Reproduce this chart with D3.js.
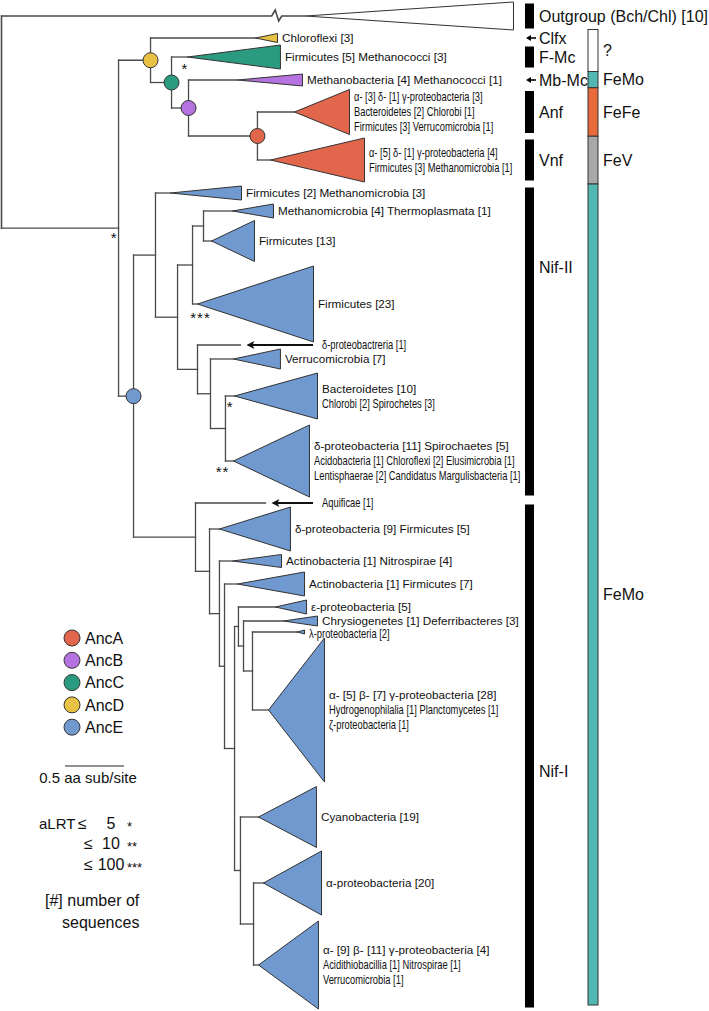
<!DOCTYPE html>
<html><head><meta charset="utf-8">
<script src="https://cdn.jsdelivr.net/npm/d3@7"></script>
<style>
body{margin:0;background:#fff}
svg{display:block}
text{font-family:"Liberation Sans",Arial,Helvetica,sans-serif;fill:#111}
</style>
</head><body>
<svg id="c" width="709" height="1011"></svg>
<script>
// ---------------- DATA ----------------
// internal nodes: depth = distance from root (aa substitutions / site)
const nodeIds     = ["root","IN","D","C","B","A","E","N2","n2a","n2b","n2d","n2c","n2e","n2f","N1","n1a","n1b","n1c","n1d","n1e","n1f","n1g","n1h","n1i"];
const nodeParents = [null,"root","IN","D","C","B","IN","E","N2","n2a","n2b","n2a","n2c","n2e","E","N1","n1a","n1b","n1c","n1d","n1e","n1f","n1d","n1h"];
const nodeDepths  = [0,0.992,1.263,1.441,1.585,2.169,1.119,1.305,1.492,1.619,1.712,1.661,1.771,1.898,1.644,1.763,1.847,1.890,1.975,2.008,2.051,2.127,2.025,2.136];
const ancestorNodes = ["A","B","C","D","E"];
const ancestorNames = ["AncA","AncB","AncC","AncD","AncE"];

// collapsed clades / leaves
const cladeIds     = ["OUT","Clfx","FMc","Mb","Anf","Vnf","FM","MT","F13","F23","d1","Verr","Bact","D11","Aqui","D9","AN","AF","eps","Chry","lam","Big","Cyan","A20","A9"];
const cladeParents = ["root","D","C","B","A","A","N2","n2d","n2d","n2b","n2c","n2e","n2f","n2f","N1","n1a","n1b","n1c","n1e","n1f","n1g","n1g","n1h","n1i","n1i"];
const cladeRows    = [16,38,57,80,112,160,193,211,241,304,345,359,396,461,503,529,561,584,607,621,632,710,817,883,965];
const cladeCrown   = [2.576,2.153,1.576,2.0,2.483,2.28,1.432,1.958,1.78,1.661,2.025,1.966,1.975,1.966,2.237,1.847,1.958,2.0,2.322,2.39,2.508,2.263,2.178,2.22,2.178];
const cladeTip     = [4.339,2.339,2.364,2.551,2.949,3.076,2.034,2.305,2.144,2.644,2.025,2.364,2.678,2.61,2.237,2.449,2.373,2.568,2.585,2.678,2.568,2.737,2.669,2.712,2.686];
const cladeSpan    = [28,9,24,12,45,44,14,14,41,76,0,20,46,72,0,44,13,24,14,10,4,144,61,64,88];
const outgroupBreak = 2.29;

// label lines: [text, r = regular / n = narrow]
const cladeLabels = [
 [],
 [["Chloroflexi [3]","r"]],
 [["Firmicutes [5] Methanococci [3]","r"]],
 [["Methanobacteria [4] Methanococci [1]","r"]],
 [["α- [3] δ- [1] γ-proteobacteria [3]","n"],["Bacteroidetes [2] Chlorobi [1]","n"],["Firmicutes [3] Verrucomicrobia [1]","n"]],
 [["α- [5] δ- [1] γ-proteobacteria [4]","n"],["Firmicutes [3] Methanomicrobia [1]","n"]],
 [["Firmicutes [2] Methanomicrobia [3]","r"]],
 [["Methanomicrobia [4] Thermoplasmata [1]","r"]],
 [["Firmicutes [13]","r"]],
 [["Firmicutes [23]","r"]],
 [["δ-proteobactreria [1]","n"]],
 [["Verrucomicrobia [7]","r"]],
 [["Bacteroidetes [10]","r"],["Chlorobi [2] Spirochetes [3]","n"]],
 [["δ-proteobacteria [11] Spirochaetes [5]","r"],["Acidobacteria [1] Chloroflexi [2] Elusimicrobia [1]","n"],["Lentisphaerae [2] Candidatus Margulisbacteria [1]","n"]],
 [["Aquificae [1]","n"]],
 [["δ-proteobacteria [9] Firmicutes [5]","r"]],
 [["Actinobacteria [1] Nitrospirae [4]","r"]],
 [["Actinobacteria [1] Firmicutes [7]","r"]],
 [["ε-proteobacteria [5]","r"]],
 [["Chrysiogenetes [1] Deferribacteres [3]","r"]],
 [["λ-proteobacteria [2]","n"]],
 [["α- [5] β- [7] γ-proteobacteria [28]","r"],["Hydrogenophilalia [1] Planctomycetes [1]","n"],["ζ-proteobacteria [1]","n"]],
 [["Cyanobacteria [19]","r"]],
 [["α-proteobacteria [20]","r"]],
 [["α- [9] β- [11] γ-proteobacteria [4]","r"],["Acidithiobacillia [1] Nitrospirae [1]","n"],["Verrucomicrobia [1]","n"]]
];
const arrowLeaves = ["d1","Aqui"];

// aLRT support marks
const supportAt    = ["IN","FMc","F23","Bact","D11"];
const supportMarks = ["*","*","***","*","**"];

// right-hand groups
const groupNames = ["Outgroup (Bch/Chl) [10]","Clfx","F-Mc","Mb-Mc","Anf","Vnf","Nif-II","Nif-I"];
const groupFirst = ["OUT","Clfx","FMc","Mb","Anf","Vnf","FM","Aqui"];
const groupLast  = ["OUT","Clfx","FMc","Mb","Anf","Vnf","D11","A9"];
const groupKind  = ["bar","arrow","bar","arrow","bar","bar","bar","bar"];

// metal cofactor bar
const metalNames = ["?","FeMo","FeFe","FeV","FeMo"];
const metalFirst = ["Clfx","Mb","Anf","Vnf","FM"];
const metalLast  = ["FMc","Mb","Anf","Vnf","A9"];

// legend
const scaleBarValue = 0.5;
const aLRTThresholds = ["5","10","100"];
const aLRTMarks = ["*","**","***"];

// ---------------- STYLE ----------------
const ancColor = {AncA:"#e1664b",AncB:"#b473df",AncC:"#2a9b80",AncD:"#e9c144",AncE:"#7099d0"};
const metalColor = {"?":"#ffffff","FeMo":"#52b6b2","FeFe":"#e8693a","FeV":"#a8a8aa"};
const lineCol = "#4a4a4a";
const labelNudge = {lam:2};

// ---------------- BUILD ----------------
const X = d3.scaleLinear().domain([0,5]).range([1.5,1.5+5*118]);
const Y = d3.scaleLinear().domain([0,1011]).range([0,1011]);

const N = {};
nodeIds.forEach((id,i)=>N[id]={id,parent:nodeParents[i],depth:nodeDepths[i],children:[],leaf:false});
cladeIds.forEach((id,i)=>N[id]={id,parent:cladeParents[i],depth:cladeCrown[i],tip:cladeTip[i],row:cladeRows[i],span:cladeSpan[i],labels:cladeLabels[i],children:[],leaf:true});
Object.values(N).forEach(n=>{ if(n.parent) N[n.parent].children.push(n); });
function setY(n){ if(n.leaf){n.y=n.row;return n.y;} const ys=n.children.map(setY); n.y=(d3.min(ys)+d3.max(ys))/2; return n.y; }
setY(N.root);
const ancOf = {}; ancestorNodes.forEach((id,i)=>ancOf[id]=ancestorNames[i]);
function cladeColor(n){ let p=N[n.parent]; while(p){ if(ancOf[p.id]) return ancColor[ancOf[p.id]]; p=N[p.parent]; } return "#ffffff"; }

const svg = d3.select("#c");
const gT = svg.append("g");

// verticals
Object.values(N).filter(n=>!n.leaf).forEach(n=>{
  const ys=n.children.map(c=>c.y);
  gT.append("line").attr("x1",X(n.depth)).attr("x2",X(n.depth))
    .attr("y1",Y(d3.min(ys))).attr("y2",Y(d3.max(ys)))
    .attr("stroke",lineCol).attr("stroke-width",n.id==="root"?1.6:1.3).attr("stroke-linecap","square");
});
// horizontals
Object.values(N).filter(n=>n.parent).forEach(n=>{
  const x0=X(N[n.parent].depth), x1=X(n.depth), y=Y(n.y);
  if(n.id==="OUT"){
    const xb=X(outgroupBreak);
    gT.append("path").attr("d",`M${x0},${y}L${xb},${y}L${xb+3.5},${y-6}L${xb+7},${y+5}L${xb+10},${y}L${x1},${y}`)
      .attr("fill","none").attr("stroke",lineCol).attr("stroke-width",1.6);
  } else {
    gT.append("line").attr("x1",x0).attr("x2",x1).attr("y1",y).attr("y2",y)
      .attr("stroke",lineCol).attr("stroke-width",1.3).attr("stroke-linecap","square");
  }
});
// triangles
Object.values(N).filter(n=>n.leaf && n.span>0).forEach(n=>{
  const pts=[[X(n.depth),Y(n.y)],[X(n.tip),Y(n.y-n.span/2)],[X(n.tip),Y(n.y+n.span/2)]];
  gT.append("path").attr("d","M"+pts.join("L")+"Z").attr("fill",cladeColor(n))
    .attr("stroke","#333").attr("stroke-width",1).attr("stroke-linejoin","miter");
});
// labels
function addText(g,x,y,txt,style){
  if(style==="n"){
    g.append("text").attr("transform",`translate(${x},${y}) scale(0.78,1)`).attr("font-size",12).text(txt);
  } else {
    g.append("text").attr("x",x).attr("y",y).attr("font-size",11.7).text(txt);
  }
}
Object.values(N).filter(n=>n.leaf && n.labels.length).forEach(n=>{
  const isArrow = arrowLeaves.includes(n.id);
  let lx = X(n.tip)+4.5;
  if(isArrow){
    lx = 322;
    const xh = X(n.tip)+6, xt = 313, y=Y(n.y);
    gT.append("line").attr("x1",xh+5).attr("x2",xt).attr("y1",y).attr("y2",y).attr("stroke","#111").attr("stroke-width",1.8);
    gT.append("path").attr("d",`M${xh},${y}L${xh+8},${y-4}L${xh+6},${y}L${xh+8},${y+4}Z`).attr("fill","#111");
  }
  const k=n.labels.length, nud=labelNudge[n.id]||0;
  n.labels.forEach((l,i)=>{
    const yy = Y(n.y)+(i-(k-1)/2)*14.8+4.2+nud;
    addText(gT,lx,yy,l[0],l[1]);
  });
});
// support asterisks (centre offsets)
const supOff = {IN:[-5,6],FMc:[-3,8],F23:[3,10],Bact:[-5,7],D11:[-11,7]};
supportAt.forEach((id,i)=>{
  const n=N[id], o=supOff[id]||[-4,7];
  gT.append("text").attr("x",X(n.depth)+o[0]).attr("y",Y(n.y)+o[1]+8.5)
    .attr("text-anchor","middle").attr("font-size",15).attr("letter-spacing",supportMarks[i].length>1?1:0)
    .text(supportMarks[i]);
});
// ancestor circles
ancestorNodes.forEach((id,i)=>{
  const n=N[id];
  gT.append("circle").attr("cx",X(n.depth)).attr("cy",Y(n.y)).attr("r",7.5)
    .attr("fill",ancColor[ancestorNames[i]]).attr("stroke","#333").attr("stroke-width",1);
});

// ---------------- RIGHT SIDE ----------------
const gR = svg.append("g");
const yTop = id=>N[id].y-N[id].span/2, yBot = id=>N[id].y+N[id].span/2;
const labelFrac = {"Nif-II":0.26,"Nif-I":0.53};
groupNames.forEach((name,i)=>{
  if(groupKind[i]==="bar"){
    const y0=Y(yTop(groupFirst[i]))+1.5, y1=Y(yBot(groupLast[i]))-1.5;
    gR.append("rect").attr("x",525).attr("y",y0).attr("width",9).attr("height",y1-y0).attr("fill","#000");
    const f = labelFrac[name]!==undefined?labelFrac[name]:0.5;
    gR.append("text").attr("x",539).attr("y",y0+(y1-y0)*f+5.8).attr("font-size",16).text(name);
  } else {
    const y=Y(N[groupFirst[i]].y);
    gR.append("line").attr("x1",530).attr("x2",536).attr("y1",y).attr("y2",y).attr("stroke","#000").attr("stroke-width",1.6);
    gR.append("path").attr("d",`M526,${y}L531,${y-3}L531,${y+3}Z`).attr("fill","#000");
    gR.append("text").attr("x",539).attr("y",y+5.8).attr("font-size",16).text(name);
  }
});
// metal segments
const segs = metalNames.map((m,i)=>({m,t:yTop(metalFirst[i]),b:yBot(metalLast[i])}));
segs.forEach((s,i)=>{
  s.y0 = i===0 ? s.t-4 : segs[i-1].y1;
  s.y1 = i===segs.length-1 ? s.b-4 : (s.b+segs[i+1].t)/2;
});
segs.forEach(s=>{
  gR.append("rect").attr("x",588).attr("y",Y(s.y0)).attr("width",10).attr("height",Y(s.y1)-Y(s.y0))
    .attr("fill",metalColor[s.m]).attr("stroke","#333").attr("stroke-width",1);
  gR.append("text").attr("x",603).attr("y",Y((s.y0+s.y1)/2)+5.8).attr("font-size",16).text(s.m);
});

// ---------------- LEGEND ----------------
const gL = svg.append("g");
ancestorNames.forEach((a,i)=>{
  const y=638+i*22.3;
  gL.append("circle").attr("cx",72).attr("cy",y).attr("r",8).attr("fill",ancColor[a]).attr("stroke","#333").attr("stroke-width",1);
  gL.append("text").attr("x",85).attr("y",y+5.8).attr("font-size",16).text(a);
});
gL.append("line").attr("x1",65).attr("x2",65+X(scaleBarValue)-X(0)).attr("y1",766).attr("y2",766).attr("stroke","#222").attr("stroke-width",1.2);
gL.append("text").attr("x",88).attr("y",783).attr("text-anchor","middle").attr("font-size",15).text(scaleBarValue+" aa sub/site");
aLRTThresholds.forEach((t,i)=>{
  const y=823+i*20.5+5.6;
  if(i===0) gL.append("text").attr("x",39).attr("y",y).attr("font-size",15).text("aLRT");
  gL.append("text").attr("x",i===0?78:84).attr("y",y).attr("font-size",16).text("≤");
  gL.append("text").attr("x",111).attr("y",y).attr("text-anchor","middle").attr("font-size",16).text(t);
  gL.append("text").attr("x",127).attr("y",y+2).attr("font-size",13).text(aLRTMarks[i]);
});
gL.append("text").attr("x",45).attr("y",906).attr("font-size",16).text("[#] number of");
gL.append("text").attr("x",62).attr("y",928).attr("font-size",16).text("sequences");
</script>
</body></html>
